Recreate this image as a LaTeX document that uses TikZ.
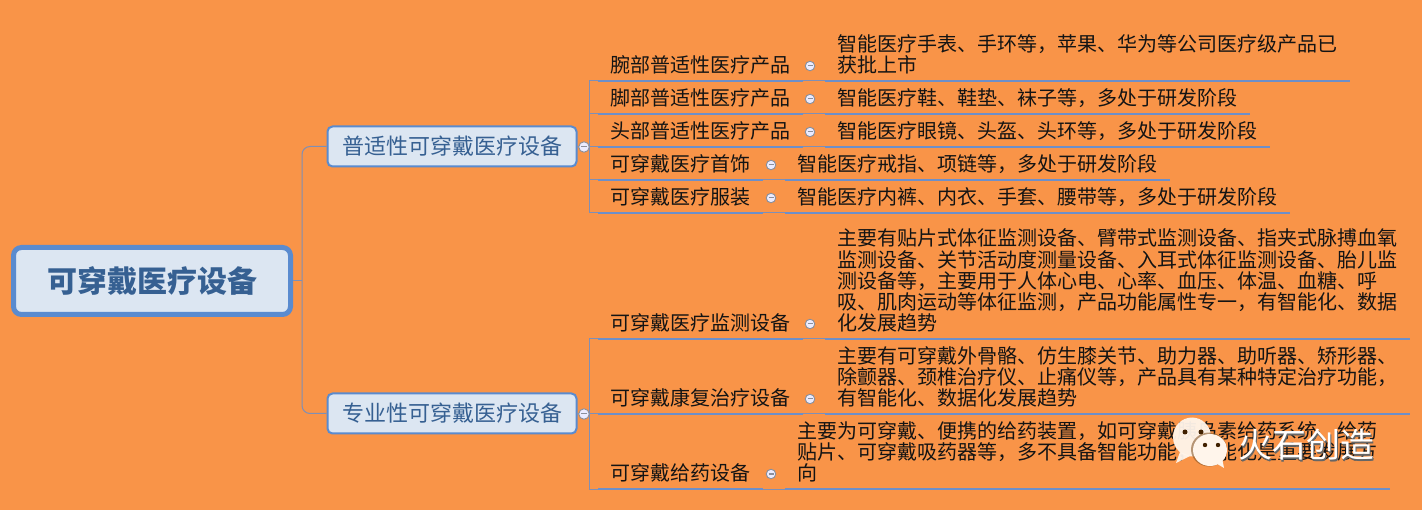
\documentclass[tikz,border=0pt]{standalone}
\usepackage{fontspec}
\setmainfont{Noto Sans CJK SC}
\newcommand\laststrut{\rule[-8pt]{0pt}{8pt}}
\definecolor{bgc}{HTML}{F99448}
\definecolor{fillc}{HTML}{DCE6F2}
\definecolor{edgec}{HTML}{5A8BCF}
\definecolor{inkc}{HTML}{366092}
\definecolor{thinc}{HTML}{7F8FB5}
\definecolor{underc}{HTML}{6D8FC9}
\definecolor{minusc}{HTML}{8A8F9C}
\tikzset{
  x=1pt,y=-1pt,
  rootbox/.style={draw=edgec,fill=fillc,line width=5pt,rounded corners=8pt,minimum width=277pt,minimum height=67pt,inner sep=0pt,text=inkc,font=\fontsize{30}{32}\selectfont\bfseries},
  midbox/.style={draw=edgec,fill=fillc,line width=2pt,rounded corners=5pt,minimum width=249pt,minimum height=40pt,inner sep=0pt,text=inkc,font=\fontsize{22}{24}\selectfont},
  leaf/.style={anchor=south west,inner xsep=12.5pt,inner ysep=0pt,align=left,text=black!92,font=\fontsize{20}{21.2}\selectfont},
  coll/.style={circle,draw=minusc,fill=white!92!blue,line width=.9pt,minimum size=9.5pt,inner sep=0pt,text=minusc,font=\fontsize{4}{4}\selectfont},
  thin link/.style={draw=thinc,line width=1pt},
  under/.style={draw=underc,line width=2pt},
}
\begin{document}
\begin{tikzpicture}
\useasboundingbox (0,0) rectangle (1422,510);
\fill[bgc] (0,0) rectangle (1422,510);

\node[rootbox] (root) at (152,281) {可穿戴医疗设备};
\node[midbox] (a) at (452,146.5) {普适性可穿戴医疗设备};
\node[midbox] (b) at (452,413.5) {专业性可穿戴医疗设备};
\coordinate (rb) at (302,281);
\draw[thin link] (root.east) -- (rb);
\draw[thin link,rounded corners=8pt] (a.west) -| (rb) |- (b.west);

% first group
\node[leaf] (a1) at (598,81) {腕部普适性医疗产品\laststrut};
\node[leaf] (a2) at (598,114) {脚部普适性医疗产品\laststrut};
\node[leaf] (a3) at (598,147) {头部普适性医疗产品\laststrut};
\node[leaf] (a4) at (598,180) {可穿戴医疗首饰\laststrut};
\node[leaf] (a5) at (598,213) {可穿戴医疗服装\laststrut};
\node[leaf] (t1) at (825,81) {智能医疗手表、手环等，苹果、华为等公司医疗级产品已\\获批上市\laststrut};
\node[leaf] (t2) at (825,114) {智能医疗鞋、鞋垫、袜子等，多处于研发阶段\laststrut};
\node[leaf] (t3) at (825,147) {智能医疗眼镜、头盔、头环等，多处于研发阶段\laststrut};
\node[leaf] (t4) at (785,180) {智能医疗戒指、项链等，多处于研发阶段\laststrut};
\node[leaf] (t5) at (785,213) {智能医疗内裤、内衣、手套、腰带等，多处于研发阶段\laststrut};

% second group
\node[leaf] (b1) at (598,339) {可穿戴医疗监测设备\laststrut};
\node[leaf] (b2) at (598,414) {可穿戴康复治疗设备\laststrut};
\node[leaf] (b3) at (598,489) {可穿戴给药设备\laststrut};
\node[leaf] (u1) at (825,339) {主要有贴片式体征监测设备、臂带式监测设备、指夹式脉搏血氧\\监测设备、关节活动度测量设备、入耳式体征监测设备、胎儿监\\测设备等，主要用于人体心电、心率、血压、体温、血糖、呼\\吸、肌肉运动等体征监测，产品功能属性专一，有智能化、数据\\化发展趋势\laststrut};
\node[leaf] (u2) at (825,414) {主要有可穿戴外骨骼、仿生膝关节、助力器、助听器、矫形器、\\除颤器、颈椎治疗仪、止痛仪等，产品具有某种特定治疗功能，\\有智能化、数据化发展趋势\laststrut};
\node[leaf] (u3) at (785,489) {主要为可穿戴、便携的给药装置，如可穿戴胰岛素给药系统、给药\\贴片、可穿戴吸药器等，多不具备智能功能，智能化是重要发展方\\向\laststrut};

% brackets
\coordinate (ba) at (589,147);
\coordinate (bb) at (589,414);
\draw[thin link] (a.east) -- (ba);
\draw[thin link] (b.east) -- (bb);
\foreach \n in {a1,a2,a3,a4,a5}{\draw[thin link] (ba) |- (\n.south west);}
\foreach \n in {b1,b2,b3}{\draw[thin link] (bb) |- (\n.south west);}

% underlines
\foreach \l/\t in {a1/t1,a2/t2,a3/t3,a4/t4,a5/t5,b1/u1,b2/u2,b3/u3}{
  \draw[under] (\l.south west) -- (\l.south east);
  \draw[under] (\t.south west) -- (\t.south east);
  \draw[thin link] (\l.south east) -- (\t.south west);
}

% collapse buttons
\node[coll,minimum size=10.5pt] (ca) at (584,147) {\rule{6pt}{1pt}};
\node[coll,minimum size=10.5pt] (cb) at (584,414) {\rule{6pt}{1pt}};
\foreach \nm/\px/\py in {c1/810/66,c2/810/99,c3/810/132,c4/771/165,c5/771/198,c6/810/324,c7/810/399,c8/771/474}{
  \node[coll] (\nm) at (\px,\py) {\rule{5pt}{1pt}};
}

% watermark
\fill[white!92!orange,opacity=.95] (1192,437) ellipse [x radius=19,y radius=19.5];
\fill[white!92!orange,opacity=.95] (1180,452) -- (1176,463) -- (1190,456) -- cycle;
\fill[black!75!orange] (1185,432) circle [radius=2.5] (1201,432) circle [radius=2.5];
\fill[brown!70!black,opacity=.6] (1209,449.5) ellipse [x radius=18,y radius=17];
\fill[white!92!orange] (1210,450) ellipse [x radius=17,y radius=16];
\fill[white!92!orange] (1214,462) -- (1224,468) -- (1222,458) -- cycle;
\fill[black!75!orange] (1205,445) circle [radius=2.2] (1218,445) circle [radius=2.2];
\node[text=black!60,font=\fontsize{34}{36}\selectfont,inner sep=0pt] (wms) at (1307.5,447) {火石创造};
\node[text=white,font=\fontsize{34}{36}\selectfont,inner sep=0pt] (wm) at (1306,445) {火石创造};
\end{tikzpicture}
\end{document}
